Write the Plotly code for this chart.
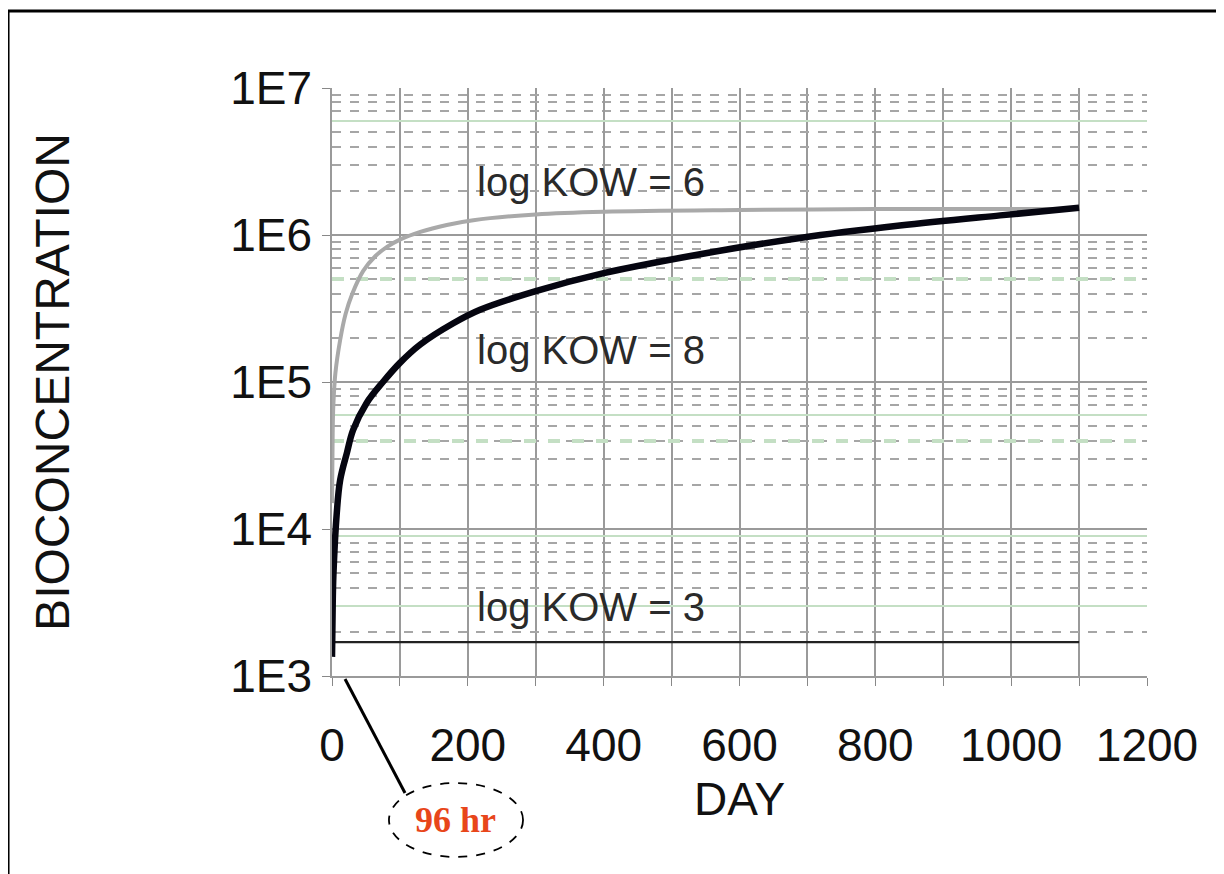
import math
import plotly.graph_objects as go

# ---- data ----
days_kow8 = [0, 1, 2, 7, 12, 22, 31, 51, 75, 100, 130, 178, 218, 300, 400, 542, 689, 836, 984, 1100]
bcf_kow8 = [1.35e3, 3.0e3, 4.8e3, 1.28e4, 2.15e4, 3.3e4, 4.7e4, 7.2e4, 1.0e5, 1.35e5, 1.8e5,
            2.5e5, 3.1e5, 4.15e5, 5.5e5, 7.4e5, 9.55e5, 1.16e6, 1.36e6, 1.53e6]

days_kow6 = [0, 1, 2, 5, 12, 20, 30, 46, 64, 81, 100, 130, 169, 208, 300, 400, 600, 800, 1000, 1100]
bcf_kow6 = [1.5e4, 4.5e4, 7.0e4, 1.15e5, 1.93e5, 2.9e5, 4.0e5, 5.7e5, 7.2e5, 8.3e5, 9.3e5,
            1.05e6, 1.17e6, 1.26e6, 1.38e6, 1.44e6, 1.48e6, 1.5e6, 1.5e6, 1.5e6]

days_kow3 = [0, 1100]
bcf_kow3 = [1.7e3, 1.7e3]

y_major = [1e3, 1e4, 1e5, 1e6, 1e7]
y_major_text = ["1E3", "1E4", "1E5", "1E6", "1E7"]
y_minor = [m * 10 ** e for e in range(3, 7) for m in range(2, 10)]
y_green_thin = [3e3, 9e3, 6e4, 6e6]
y_green_thick = [4e4, 5e5]
x_ticks = [0, 200, 400, 600, 800, 1000, 1200]

labels = [("log KOW = 6", 381, 2.29e6), ("log KOW = 8", 381, 1.65e5), ("log KOW = 3", 381, 2.95e3)]

FONT = "Liberation Sans, Arial, sans-serif"

fig = go.Figure()

# invisible helper traces for the overlay grid axes
fig.add_trace(go.Scatter(x=[0], y=[1e3], yaxis="y2", mode="markers",
                         marker=dict(opacity=0), showlegend=False, hoverinfo="skip"))
fig.add_trace(go.Scatter(x=[0], y=[1e3], yaxis="y3", mode="markers",
                         marker=dict(opacity=0), showlegend=False, hoverinfo="skip"))

fig.add_trace(go.Scatter(x=days_kow3, y=bcf_kow3, mode="lines",
                         line=dict(color="#222222", width=2.2), showlegend=False))
fig.add_trace(go.Scatter(x=days_kow6, y=bcf_kow6, mode="lines",
                         line=dict(color="#a9a9a9", width=4, shape="spline", smoothing=1),
                         showlegend=False))
fig.add_trace(go.Scatter(x=days_kow8, y=bcf_kow8, mode="lines",
                         line=dict(color="#050510", width=6.5, shape="spline", smoothing=1),
                         showlegend=False))

for txt, xd, yv in labels:
    fig.add_annotation(x=xd, y=math.log10(yv), text=txt, showarrow=False,
                       xanchor="center", yanchor="middle",
                       font=dict(family=FONT, size=40, color="#2a2a2a"))

# "96 hr" callout
fig.add_shape(type="line", xref="paper", yref="paper", x0=0.016, y0=-0.005, x1=0.0896, y1=-0.199,
              line=dict(color="black", width=3))
fig.add_shape(type="circle", xref="paper", yref="paper", x0=0.0699, x1=0.2344, y0=-0.3078, y1=-0.182,
              line=dict(color="black", width=1.8, dash="dash"), fillcolor="white")
fig.add_annotation(xref="paper", yref="paper", x=0.152, y=-0.245, text="<b>96 hr</b>", showarrow=False,
                   xanchor="center", yanchor="middle",
                   font=dict(family="Liberation Serif, Times New Roman, serif", size=36, color="#e8461a"))

# outer border
fig.add_shape(type="rect", xref="paper", yref="paper", x0=-0.3975, x1=1.12, y0=-0.4, y1=1.131,
              line=dict(color="black", width=3), layer="above")

fig.update_layout(
    width=1224, height=874,
    margin=dict(l=324, r=85, t=80, b=206),
    paper_bgcolor="white", plot_bgcolor="white",
    font=dict(family=FONT, color="#111111"),
    xaxis=dict(range=[0, 1200], tickvals=x_ticks, ticks="outside", ticklen=8, tickcolor="#888",
               tickfont=dict(size=46), ticklabelstandoff=20,
               showgrid=True, gridcolor="#9a9a9a", gridwidth=1.5,
               minor=dict(dtick=100, showgrid=True, gridcolor="#9a9a9a", gridwidth=1.5,
                          ticks="outside", ticklen=8, tickcolor="#888"),
               showline=True, linecolor="#9a9a9a", linewidth=1.5, zeroline=False,
               title=dict(text="DAY", font=dict(size=46), standoff=13)),
    yaxis=dict(type="log", range=[3, 7], tickvals=y_major, ticktext=y_major_text,
               ticks="outside", ticklen=8, tickcolor="#888", tickfont=dict(size=46),
               ticklabelstandoff=1,
               showgrid=True, gridcolor="#9a9a9a", gridwidth=1.5,
               minor=dict(tickvals=y_minor, showgrid=True, gridcolor="#a6a6a6", gridwidth=1.5,
                          griddash="dash"),
               showline=True, linecolor="#9a9a9a", linewidth=1.5, zeroline=False,
               title=dict(text="BIOCONCENTRATION", font=dict(size=48), standoff=145)),
    yaxis2=dict(type="log", range=[3, 7], overlaying="y", tickvals=y_green_thin,
                showticklabels=False, ticks="", showgrid=True, gridcolor="#c4dfc4", gridwidth=2,
                showline=False, zeroline=False),
    yaxis3=dict(type="log", range=[3, 7], overlaying="y", tickvals=y_green_thick,
                showticklabels=False, ticks="", showgrid=True, gridcolor="#c4dfc4", gridwidth=4,
                griddash="dash", showline=False, zeroline=False),
    showlegend=False,
)

fig.write_html("out.html")
